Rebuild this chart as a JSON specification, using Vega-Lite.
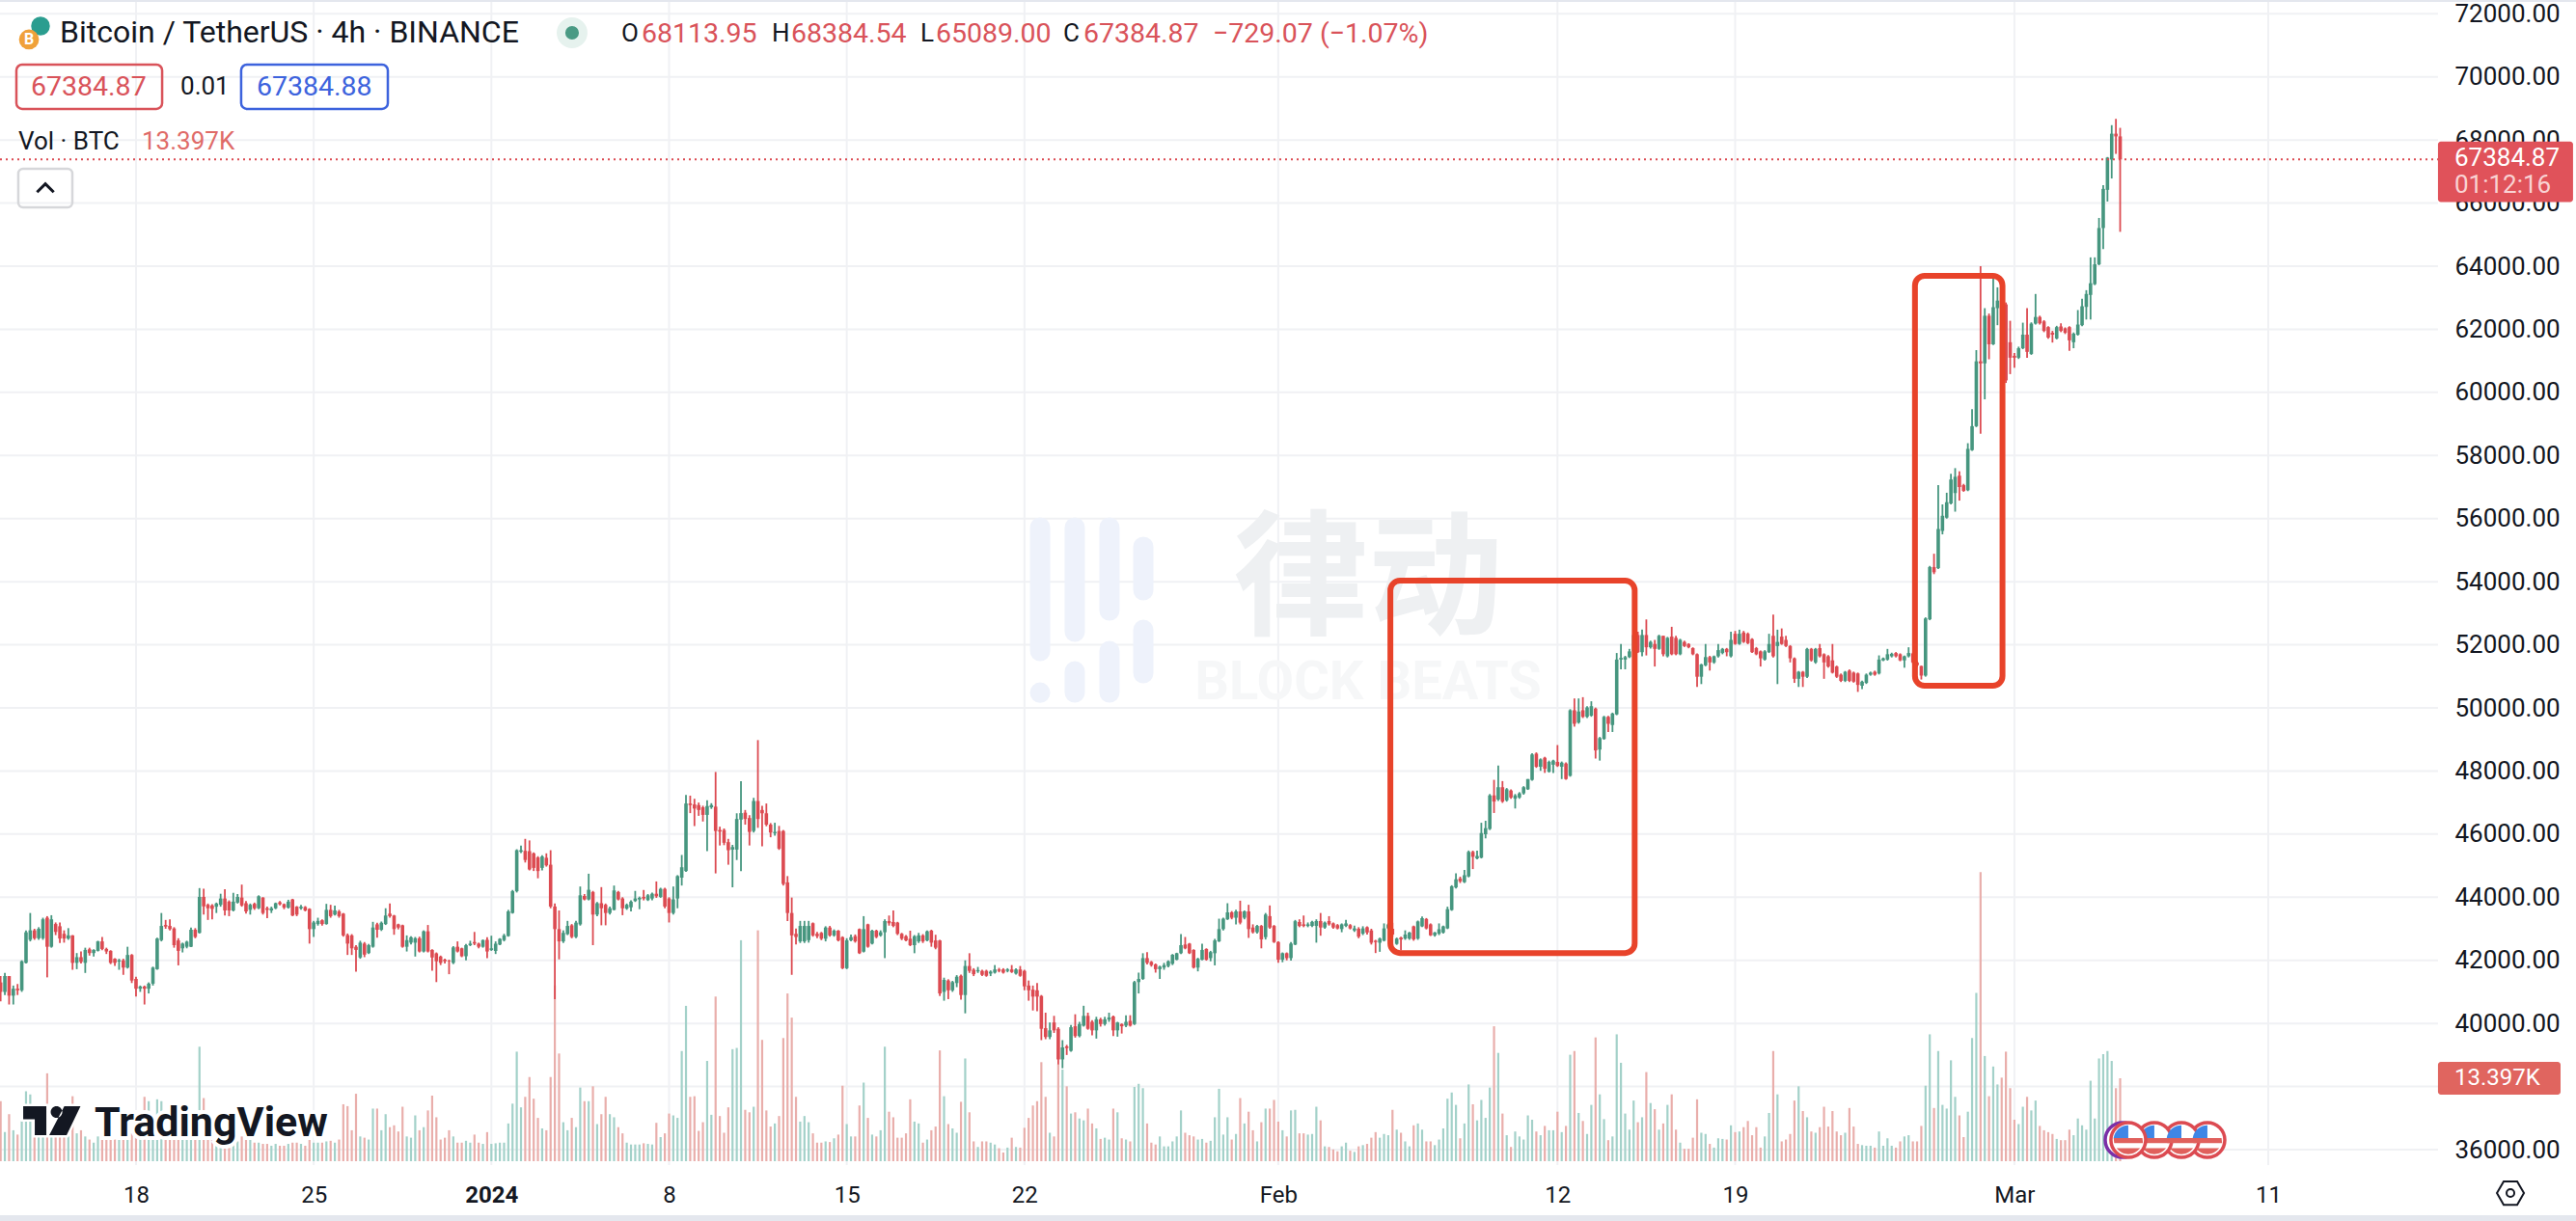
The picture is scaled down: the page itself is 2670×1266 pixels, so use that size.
{"$schema":"https://vega.github.io/schema/vega-lite/v6.json","width":2670,"height":1266,"padding":0,"autosize":{"type":"none","contains":"padding"},"background":"white","config":{"view":{"stroke":null}},
"datasets":{"candles":[
{"t":"2023-12-12T16:00","o":41300,"h":41500,"l":40700,"c":41000,"v":9700},{"t":"2023-12-12T20:00","o":41000,"h":41600,"l":40900,"c":41500,"v":4700},
{"t":"2023-12-13T00:00","o":41500,"h":41500,"l":40600,"c":40880,"v":7600},{"t":"2023-12-13T04:00","o":40880,"h":41200,"l":40600,"c":41100,"v":5000},{"t":"2023-12-13T08:00","o":41100,"h":41250,"l":40900,"c":41050,"v":4300},{"t":"2023-12-13T12:00","o":41050,"h":42000,"l":41000,"c":41970,"v":6500},{"t":"2023-12-13T16:00","o":41920,"h":42950,"l":41900,"c":42890,"v":11300},{"t":"2023-12-13T20:00","o":42650,"h":43500,"l":42600,"c":42950,"v":10800},
{"t":"2023-12-14T00:00","o":42950,"h":43000,"l":42650,"c":42700,"v":6500},{"t":"2023-12-14T04:00","o":42700,"h":43050,"l":42650,"c":43000,"v":5000},{"t":"2023-12-14T08:00","o":42700,"h":43350,"l":42650,"c":43300,"v":6000},{"t":"2023-12-14T12:00","o":43350,"h":43400,"l":41460,"c":42430,"v":14200},{"t":"2023-12-14T16:00","o":42430,"h":43430,"l":42400,"c":43300,"v":5000},{"t":"2023-12-14T20:00","o":43150,"h":43200,"l":42800,"c":42900,"v":4000},
{"t":"2023-12-15T00:00","o":43080,"h":43200,"l":42550,"c":42690,"v":4000},{"t":"2023-12-15T04:00","o":42840,"h":42950,"l":42560,"c":42690,"v":4500},{"t":"2023-12-15T08:00","o":42690,"h":43020,"l":42650,"c":42790,"v":4000},{"t":"2023-12-15T12:00","o":42790,"h":42800,"l":41700,"c":41920,"v":10500},{"t":"2023-12-15T16:00","o":41920,"h":42230,"l":41720,"c":42100,"v":4500},{"t":"2023-12-15T20:00","o":42100,"h":42280,"l":41900,"c":41950,"v":5000},
{"t":"2023-12-16T00:00","o":41920,"h":42400,"l":41600,"c":42330,"v":4000},{"t":"2023-12-16T04:00","o":42350,"h":42400,"l":42150,"c":42230,"v":3500},{"t":"2023-12-16T08:00","o":42230,"h":42350,"l":42120,"c":42330,"v":3000},{"t":"2023-12-16T12:00","o":42300,"h":42620,"l":42280,"c":42600,"v":4000},{"t":"2023-12-16T16:00","o":42600,"h":42740,"l":42320,"c":42360,"v":4500},{"t":"2023-12-16T20:00","o":42360,"h":42400,"l":42200,"c":42280,"v":3500},
{"t":"2023-12-17T00:00","o":42300,"h":42320,"l":41880,"c":41920,"v":3500},{"t":"2023-12-17T04:00","o":42050,"h":42070,"l":41820,"c":41920,"v":3500},{"t":"2023-12-17T08:00","o":41960,"h":42050,"l":41700,"c":42000,"v":3500},{"t":"2023-12-17T12:00","o":42000,"h":42050,"l":41540,"c":41770,"v":4000},{"t":"2023-12-17T16:00","o":41770,"h":42430,"l":41740,"c":42170,"v":4000},{"t":"2023-12-17T20:00","o":42170,"h":42200,"l":41280,"c":41360,"v":4500},
{"t":"2023-12-18T00:00","o":41410,"h":41480,"l":40850,"c":41100,"v":5000},{"t":"2023-12-18T04:00","o":41100,"h":41200,"l":41000,"c":41170,"v":4500},{"t":"2023-12-18T08:00","o":41170,"h":41200,"l":40600,"c":41100,"v":10400},{"t":"2023-12-18T12:00","o":41100,"h":41300,"l":40950,"c":41260,"v":9700},{"t":"2023-12-18T16:00","o":41260,"h":41800,"l":41200,"c":41770,"v":5000},{"t":"2023-12-18T20:00","o":41720,"h":42720,"l":41700,"c":42690,"v":10000},
{"t":"2023-12-19T00:00","o":42640,"h":43500,"l":42600,"c":43090,"v":9700},{"t":"2023-12-19T04:00","o":43120,"h":43280,"l":43000,"c":43070,"v":4500},{"t":"2023-12-19T08:00","o":43090,"h":43300,"l":42950,"c":42990,"v":4000},{"t":"2023-12-19T12:00","o":43010,"h":43050,"l":42400,"c":42480,"v":5000},{"t":"2023-12-19T16:00","o":42630,"h":42700,"l":41840,"c":42300,"v":4500},{"t":"2023-12-19T20:00","o":42380,"h":42560,"l":42250,"c":42530,"v":4000},
{"t":"2023-12-20T00:00","o":42430,"h":42620,"l":42380,"c":42590,"v":4000},{"t":"2023-12-20T04:00","o":42430,"h":43040,"l":42420,"c":42970,"v":5000},{"t":"2023-12-20T08:00","o":42970,"h":43020,"l":42700,"c":42740,"v":4500},{"t":"2023-12-20T12:00","o":42870,"h":44290,"l":42850,"c":44010,"v":18500},{"t":"2023-12-20T16:00","o":44010,"h":44270,"l":43450,"c":43710,"v":10200},{"t":"2023-12-20T20:00","o":43760,"h":43800,"l":43280,"c":43650,"v":4000},
{"t":"2023-12-21T00:00","o":43740,"h":43780,"l":43300,"c":43630,"v":4200},{"t":"2023-12-21T04:00","o":43700,"h":43830,"l":43500,"c":43800,"v":3800},{"t":"2023-12-21T08:00","o":43760,"h":44110,"l":43700,"c":43960,"v":3800},{"t":"2023-12-21T12:00","o":43960,"h":44250,"l":43420,"c":43580,"v":5000},{"t":"2023-12-21T16:00","o":43860,"h":43900,"l":43400,"c":43580,"v":3500},{"t":"2023-12-21T20:00","o":43580,"h":44140,"l":43550,"c":43860,"v":3500},
{"t":"2023-12-22T00:00","o":43830,"h":44100,"l":43800,"c":44010,"v":3200},{"t":"2023-12-22T04:00","o":43990,"h":44400,"l":43700,"c":43740,"v":4000},{"t":"2023-12-22T08:00","o":43810,"h":43880,"l":43480,"c":43550,"v":3800},{"t":"2023-12-22T12:00","o":43600,"h":43800,"l":43450,"c":43760,"v":3500},{"t":"2023-12-22T16:00","o":43790,"h":43830,"l":43600,"c":43650,"v":3000},{"t":"2023-12-22T20:00","o":43650,"h":44060,"l":43620,"c":44030,"v":3000},
{"t":"2023-12-23T00:00","o":43990,"h":44000,"l":43450,"c":43500,"v":2800},{"t":"2023-12-23T04:00","o":43650,"h":43700,"l":43340,"c":43600,"v":2800},{"t":"2023-12-23T08:00","o":43580,"h":43700,"l":43500,"c":43650,"v":2500},{"t":"2023-12-23T12:00","o":43650,"h":43830,"l":43620,"c":43810,"v":2800},{"t":"2023-12-23T16:00","o":43840,"h":43880,"l":43740,"c":43780,"v":2500},{"t":"2023-12-23T20:00","o":43780,"h":43800,"l":43620,"c":43670,"v":2500},
{"t":"2023-12-24T00:00","o":43670,"h":43920,"l":43640,"c":43860,"v":2800},{"t":"2023-12-24T04:00","o":43930,"h":43950,"l":43400,"c":43420,"v":3000},{"t":"2023-12-24T08:00","o":43700,"h":43720,"l":43400,"c":43450,"v":3000},{"t":"2023-12-24T12:00","o":43650,"h":43760,"l":43600,"c":43700,"v":2800},{"t":"2023-12-24T16:00","o":43690,"h":43720,"l":43550,"c":43580,"v":2500},{"t":"2023-12-24T20:00","o":43630,"h":43650,"l":42530,"c":42990,"v":3500},
{"t":"2023-12-25T00:00","o":42990,"h":43250,"l":42740,"c":43200,"v":3000},{"t":"2023-12-25T04:00","o":43150,"h":43350,"l":43100,"c":43250,"v":3000},{"t":"2023-12-25T08:00","o":43270,"h":43300,"l":43100,"c":43150,"v":3000},{"t":"2023-12-25T12:00","o":43150,"h":43790,"l":43130,"c":43600,"v":3200},{"t":"2023-12-25T16:00","o":43600,"h":43760,"l":43350,"c":43400,"v":3300},{"t":"2023-12-25T20:00","o":43450,"h":43730,"l":43420,"c":43580,"v":3000},
{"t":"2023-12-26T00:00","o":43550,"h":43600,"l":43350,"c":43400,"v":3500},{"t":"2023-12-26T04:00","o":43480,"h":43500,"l":42750,"c":42790,"v":9200},{"t":"2023-12-26T08:00","o":42800,"h":42850,"l":42170,"c":42530,"v":8900},{"t":"2023-12-26T12:00","o":42790,"h":42830,"l":42170,"c":42380,"v":5000},{"t":"2023-12-26T16:00","o":42430,"h":42480,"l":41640,"c":42330,"v":10900},{"t":"2023-12-26T20:00","o":42090,"h":42620,"l":42050,"c":42560,"v":4000},
{"t":"2023-12-27T00:00","o":42530,"h":42580,"l":42100,"c":42180,"v":3800},{"t":"2023-12-27T04:00","o":42230,"h":42520,"l":42200,"c":42480,"v":3500},{"t":"2023-12-27T08:00","o":42430,"h":43220,"l":42400,"c":43040,"v":8500},{"t":"2023-12-27T12:00","o":43140,"h":43190,"l":42720,"c":42970,"v":8500},{"t":"2023-12-27T16:00","o":42970,"h":43230,"l":42930,"c":43190,"v":5000},{"t":"2023-12-27T20:00","o":43150,"h":43650,"l":43120,"c":43420,"v":7600},
{"t":"2023-12-28T00:00","o":43480,"h":43800,"l":43350,"c":43400,"v":5500},{"t":"2023-12-28T04:00","o":43420,"h":43440,"l":42810,"c":42990,"v":5800},{"t":"2023-12-28T08:00","o":43140,"h":43160,"l":42980,"c":43040,"v":4800},{"t":"2023-12-28T12:00","o":43110,"h":43130,"l":42400,"c":42430,"v":8800},{"t":"2023-12-28T16:00","o":42430,"h":42790,"l":42280,"c":42640,"v":4000},{"t":"2023-12-28T20:00","o":42560,"h":42760,"l":42500,"c":42730,"v":3800},
{"t":"2023-12-29T00:00","o":42560,"h":42740,"l":42120,"c":42700,"v":7400},{"t":"2023-12-29T04:00","o":42700,"h":42750,"l":42250,"c":42280,"v":5000},{"t":"2023-12-29T08:00","o":42280,"h":42950,"l":42250,"c":42920,"v":5500},{"t":"2023-12-29T12:00","o":42920,"h":43120,"l":42250,"c":42280,"v":8200},{"t":"2023-12-29T16:00","o":42330,"h":42350,"l":41670,"c":42090,"v":10600},{"t":"2023-12-29T20:00","o":42220,"h":42250,"l":41310,"c":41970,"v":7100},
{"t":"2023-12-30T00:00","o":42120,"h":42150,"l":41850,"c":41920,"v":3500},{"t":"2023-12-30T04:00","o":42020,"h":42050,"l":41900,"c":41970,"v":3800},{"t":"2023-12-30T08:00","o":41990,"h":42020,"l":41560,"c":41970,"v":5000},{"t":"2023-12-30T12:00","o":41920,"h":42450,"l":41880,"c":42410,"v":4000},{"t":"2023-12-30T16:00","o":42430,"h":42600,"l":42250,"c":42280,"v":3000},{"t":"2023-12-30T20:00","o":42380,"h":42400,"l":42100,"c":42130,"v":3000},
{"t":"2023-12-31T00:00","o":42130,"h":42520,"l":42000,"c":42480,"v":3300},{"t":"2023-12-31T04:00","o":42480,"h":42620,"l":42450,"c":42530,"v":3000},{"t":"2023-12-31T08:00","o":42580,"h":42900,"l":42480,"c":42530,"v":4300},{"t":"2023-12-31T12:00","o":42530,"h":42560,"l":42380,"c":42430,"v":3000},{"t":"2023-12-31T16:00","o":42430,"h":42660,"l":42400,"c":42640,"v":2800},{"t":"2023-12-31T20:00","o":42650,"h":42730,"l":42070,"c":42280,"v":4700},
{"t":"2024-01-01T00:00","o":42330,"h":42780,"l":42300,"c":42380,"v":2800},{"t":"2024-01-01T04:00","o":42300,"h":42600,"l":42200,"c":42530,"v":2900},{"t":"2024-01-01T08:00","o":42500,"h":42700,"l":42480,"c":42680,"v":3000},{"t":"2024-01-01T12:00","o":42640,"h":42840,"l":42600,"c":42790,"v":3000},{"t":"2024-01-01T16:00","o":42770,"h":43600,"l":42750,"c":43550,"v":6100},{"t":"2024-01-01T20:00","o":43500,"h":44230,"l":43480,"c":44190,"v":9300},
{"t":"2024-01-02T00:00","o":44190,"h":45520,"l":44150,"c":45490,"v":17700},{"t":"2024-01-02T04:00","o":45440,"h":45640,"l":45400,"c":45490,"v":8700},{"t":"2024-01-02T08:00","o":45470,"h":45850,"l":45100,"c":45180,"v":10400},{"t":"2024-01-02T12:00","o":45460,"h":45800,"l":44850,"c":44880,"v":13600},{"t":"2024-01-02T16:00","o":45390,"h":45420,"l":44830,"c":44930,"v":10100},{"t":"2024-01-02T20:00","o":45260,"h":45300,"l":44600,"c":44830,"v":7000},
{"t":"2024-01-03T00:00","o":44930,"h":45330,"l":44850,"c":45290,"v":5300},{"t":"2024-01-03T04:00","o":45250,"h":45390,"l":44970,"c":45010,"v":5000},{"t":"2024-01-03T08:00","o":45030,"h":45490,"l":43650,"c":43705,"v":13600},{"t":"2024-01-03T12:00","o":43705,"h":43800,"l":40770,"c":42990,"v":28400},{"t":"2024-01-03T16:00","o":42990,"h":43580,"l":42030,"c":42600,"v":17400},{"t":"2024-01-03T20:00","o":42600,"h":42950,"l":42550,"c":42870,"v":6300},
{"t":"2024-01-04T00:00","o":42830,"h":43250,"l":42800,"c":43090,"v":5000},{"t":"2024-01-04T04:00","o":43110,"h":43150,"l":42700,"c":42740,"v":7000},{"t":"2024-01-04T08:00","o":42740,"h":43250,"l":42700,"c":43195,"v":5500},{"t":"2024-01-04T12:00","o":43140,"h":44340,"l":43100,"c":44060,"v":11900},{"t":"2024-01-04T16:00","o":44040,"h":44100,"l":43900,"c":43930,"v":9700},{"t":"2024-01-04T20:00","o":43930,"h":44745,"l":43900,"c":44235,"v":9700},
{"t":"2024-01-05T00:00","o":44165,"h":44200,"l":42480,"c":43450,"v":12100},{"t":"2024-01-05T04:00","o":43450,"h":43850,"l":43400,"c":43810,"v":6000},{"t":"2024-01-05T08:00","o":43810,"h":44320,"l":43110,"c":43650,"v":7600},{"t":"2024-01-05T12:00","o":43760,"h":43800,"l":43110,"c":43500,"v":10400},{"t":"2024-01-05T16:00","o":43500,"h":43700,"l":43450,"c":43650,"v":7600},{"t":"2024-01-05T20:00","o":43600,"h":44370,"l":43580,"c":44215,"v":7100},
{"t":"2024-01-06T00:00","o":44165,"h":44200,"l":43900,"c":43930,"v":5500},{"t":"2024-01-06T04:00","o":43960,"h":44000,"l":43430,"c":43650,"v":4500},{"t":"2024-01-06T08:00","o":43640,"h":43800,"l":43600,"c":43760,"v":3000},{"t":"2024-01-06T12:00","o":43680,"h":43900,"l":43550,"c":43860,"v":2700},{"t":"2024-01-06T16:00","o":43880,"h":44200,"l":43850,"c":43960,"v":2700},{"t":"2024-01-06T20:00","o":43930,"h":44020,"l":43620,"c":43980,"v":2700},
{"t":"2024-01-07T00:00","o":44010,"h":44230,"l":43900,"c":43960,"v":2900},{"t":"2024-01-07T04:00","o":43910,"h":44100,"l":43880,"c":44060,"v":2800},{"t":"2024-01-07T08:00","o":43960,"h":44150,"l":43900,"c":44110,"v":2700},{"t":"2024-01-07T12:00","o":44110,"h":44500,"l":43980,"c":44030,"v":6200},{"t":"2024-01-07T16:00","o":44010,"h":44300,"l":43980,"c":44265,"v":3900},{"t":"2024-01-07T20:00","o":44265,"h":44300,"l":43650,"c":43705,"v":4500},
{"t":"2024-01-08T00:00","o":43960,"h":44000,"l":43200,"c":43500,"v":7700},{"t":"2024-01-08T04:00","o":43500,"h":44340,"l":43450,"c":43930,"v":7400},{"t":"2024-01-08T08:00","o":43960,"h":44700,"l":43650,"c":44670,"v":7000},{"t":"2024-01-08T12:00","o":44620,"h":45340,"l":44370,"c":44950,"v":17800},{"t":"2024-01-08T16:00","o":44830,"h":47245,"l":44800,"c":46970,"v":25100},{"t":"2024-01-08T20:00","o":46970,"h":47220,"l":46665,"c":46920,"v":10400},
{"t":"2024-01-09T00:00","o":46940,"h":47120,"l":46255,"c":46810,"v":10500},{"t":"2024-01-09T04:00","o":46920,"h":47000,"l":46580,"c":46765,"v":4900},{"t":"2024-01-09T08:00","o":46850,"h":46900,"l":46400,"c":46610,"v":6300},{"t":"2024-01-09T12:00","o":46610,"h":47070,"l":45460,"c":46890,"v":16200},{"t":"2024-01-09T16:00","o":46850,"h":46980,"l":46800,"c":46920,"v":7500},{"t":"2024-01-09T20:00","o":46870,"h":47970,"l":44755,"c":46100,"v":26600},
{"t":"2024-01-10T00:00","o":46130,"h":46235,"l":45640,"c":46080,"v":7300},{"t":"2024-01-10T04:00","o":46130,"h":46180,"l":45650,"c":45725,"v":4600},{"t":"2024-01-10T08:00","o":45745,"h":45850,"l":45030,"c":45490,"v":8700},{"t":"2024-01-10T12:00","o":45510,"h":45660,"l":44315,"c":45590,"v":18100},{"t":"2024-01-10T16:00","o":45510,"h":46660,"l":45180,"c":46480,"v":18300},{"t":"2024-01-10T20:00","o":46460,"h":47680,"l":44830,"c":46665,"v":35700},
{"t":"2024-01-11T00:00","o":46680,"h":46765,"l":46300,"c":46480,"v":8300},{"t":"2024-01-11T04:00","o":46510,"h":46600,"l":45640,"c":46070,"v":7900},{"t":"2024-01-11T08:00","o":46100,"h":47150,"l":46050,"c":47050,"v":8800},{"t":"2024-01-11T12:00","o":47050,"h":48980,"l":46200,"c":46480,"v":37300},{"t":"2024-01-11T16:00","o":46765,"h":46900,"l":45610,"c":46660,"v":19600},{"t":"2024-01-11T20:00","o":46660,"h":46970,"l":46250,"c":46300,"v":8200},
{"t":"2024-01-12T00:00","o":46300,"h":46350,"l":45900,"c":46050,"v":5600},{"t":"2024-01-12T04:00","o":46030,"h":46360,"l":45950,"c":46070,"v":6100},{"t":"2024-01-12T08:00","o":46100,"h":46260,"l":45500,"c":45540,"v":7300},{"t":"2024-01-12T12:00","o":46100,"h":46130,"l":44370,"c":44420,"v":19900},{"t":"2024-01-12T16:00","o":44470,"h":44670,"l":43245,"c":43500,"v":27100},{"t":"2024-01-12T20:00","o":43500,"h":43990,"l":41540,"c":42790,"v":23200},
{"t":"2024-01-13T00:00","o":42840,"h":43010,"l":42500,"c":42740,"v":10400},{"t":"2024-01-13T04:00","o":42600,"h":43250,"l":42550,"c":43090,"v":6400},{"t":"2024-01-13T08:00","o":42600,"h":43250,"l":42550,"c":43090,"v":7300},{"t":"2024-01-13T12:00","o":42640,"h":43250,"l":42560,"c":43090,"v":6300},{"t":"2024-01-13T16:00","o":43175,"h":43200,"l":42750,"c":42790,"v":4500},{"t":"2024-01-13T20:00","o":42840,"h":42900,"l":42700,"c":42765,"v":3000},
{"t":"2024-01-14T00:00","o":42870,"h":42900,"l":42640,"c":42685,"v":3000},{"t":"2024-01-14T04:00","o":42685,"h":43080,"l":42600,"c":43040,"v":3200},{"t":"2024-01-14T08:00","o":43040,"h":43090,"l":42750,"c":42790,"v":3100},{"t":"2024-01-14T12:00","o":42790,"h":42980,"l":42750,"c":42940,"v":3700},{"t":"2024-01-14T16:00","o":42940,"h":42960,"l":42600,"c":42630,"v":4300},{"t":"2024-01-14T20:00","o":42735,"h":42760,"l":41720,"c":41750,"v":12200},
{"t":"2024-01-15T00:00","o":41750,"h":42700,"l":41720,"c":42635,"v":6000},{"t":"2024-01-15T04:00","o":42635,"h":42820,"l":42600,"c":42735,"v":4000},{"t":"2024-01-15T08:00","o":42765,"h":42820,"l":42560,"c":42600,"v":4000},{"t":"2024-01-15T12:00","o":42990,"h":43010,"l":42200,"c":42225,"v":9000},{"t":"2024-01-15T16:00","o":42275,"h":43400,"l":42250,"c":42990,"v":12700},{"t":"2024-01-15T20:00","o":43140,"h":43160,"l":42400,"c":42430,"v":7000},
{"t":"2024-01-16T00:00","o":42530,"h":42970,"l":42500,"c":42940,"v":4300},{"t":"2024-01-16T04:00","o":42940,"h":42970,"l":42700,"c":42740,"v":4000},{"t":"2024-01-16T08:00","o":42790,"h":42950,"l":42750,"c":42890,"v":5000},{"t":"2024-01-16T12:00","o":42890,"h":43300,"l":42070,"c":43245,"v":18500},{"t":"2024-01-16T16:00","o":43245,"h":43420,"l":43100,"c":43175,"v":8000},{"t":"2024-01-16T20:00","o":43215,"h":43580,"l":43050,"c":43090,"v":7100},
{"t":"2024-01-17T00:00","o":43195,"h":43220,"l":42800,"c":42840,"v":3800},{"t":"2024-01-17T04:00","o":42840,"h":42870,"l":42640,"c":42685,"v":3800},{"t":"2024-01-17T08:00","o":42765,"h":42800,"l":42600,"c":42630,"v":4500},{"t":"2024-01-17T12:00","o":42685,"h":42940,"l":42450,"c":42480,"v":10000},{"t":"2024-01-17T16:00","o":42480,"h":42800,"l":42225,"c":42765,"v":6400},{"t":"2024-01-17T20:00","o":42600,"h":42870,"l":42550,"c":42790,"v":6100},
{"t":"2024-01-18T00:00","o":42790,"h":42830,"l":42550,"c":42600,"v":3000},{"t":"2024-01-18T04:00","o":42630,"h":42950,"l":42600,"c":42920,"v":3500},{"t":"2024-01-18T08:00","o":42940,"h":42970,"l":42430,"c":42560,"v":5000},{"t":"2024-01-18T12:00","o":42630,"h":42810,"l":42350,"c":42400,"v":5600},{"t":"2024-01-18T16:00","o":42630,"h":42650,"l":40870,"c":40950,"v":17900},{"t":"2024-01-18T20:00","o":41000,"h":41450,"l":40720,"c":41380,"v":10500},
{"t":"2024-01-19T00:00","o":41360,"h":41400,"l":40770,"c":41050,"v":6000},{"t":"2024-01-19T04:00","o":41050,"h":41350,"l":41000,"c":41310,"v":5300},{"t":"2024-01-19T08:00","o":41280,"h":41530,"l":41150,"c":41480,"v":4600},{"t":"2024-01-19T12:00","o":41510,"h":41550,"l":40750,"c":40900,"v":9600},{"t":"2024-01-19T16:00","o":40900,"h":42000,"l":40320,"c":41820,"v":16600},{"t":"2024-01-19T20:00","o":41820,"h":42225,"l":41600,"c":41665,"v":7900},
{"t":"2024-01-20T00:00","o":41700,"h":41750,"l":41500,"c":41560,"v":3200},{"t":"2024-01-20T04:00","o":41650,"h":41790,"l":41600,"c":41690,"v":2300},{"t":"2024-01-20T08:00","o":41665,"h":41700,"l":41500,"c":41540,"v":3200},{"t":"2024-01-20T12:00","o":41665,"h":41700,"l":41480,"c":41510,"v":3200},{"t":"2024-01-20T16:00","o":41580,"h":41680,"l":41500,"c":41640,"v":3000},{"t":"2024-01-20T20:00","o":41610,"h":41850,"l":41580,"c":41710,"v":2700},
{"t":"2024-01-21T00:00","o":41710,"h":41760,"l":41620,"c":41665,"v":2100},{"t":"2024-01-21T04:00","o":41710,"h":41750,"l":41580,"c":41610,"v":1400},{"t":"2024-01-21T08:00","o":41665,"h":41750,"l":41620,"c":41710,"v":2200},{"t":"2024-01-21T12:00","o":41710,"h":41850,"l":41600,"c":41630,"v":3800},{"t":"2024-01-21T16:00","o":41580,"h":41750,"l":41550,"c":41710,"v":2300},{"t":"2024-01-21T20:00","o":41710,"h":41820,"l":41480,"c":41510,"v":2200},
{"t":"2024-01-22T00:00","o":41665,"h":41700,"l":41050,"c":41175,"v":5400},{"t":"2024-01-22T04:00","o":41200,"h":41360,"l":40720,"c":41050,"v":7000},{"t":"2024-01-22T08:00","o":41070,"h":41200,"l":40410,"c":40850,"v":9000},{"t":"2024-01-22T12:00","o":41050,"h":41280,"l":40390,"c":40850,"v":9700},{"t":"2024-01-22T16:00","o":40870,"h":40900,"l":39470,"c":39830,"v":16000},{"t":"2024-01-22T20:00","o":39850,"h":40340,"l":39500,"c":39570,"v":10400},
{"t":"2024-01-23T00:00","o":39570,"h":40030,"l":39500,"c":39780,"v":4600},{"t":"2024-01-23T04:00","o":40030,"h":40240,"l":39700,"c":39780,"v":4000},{"t":"2024-01-23T08:00","o":39830,"h":39880,"l":38700,"c":38860,"v":15700},{"t":"2024-01-23T12:00","o":38860,"h":39470,"l":38580,"c":39240,"v":14800},{"t":"2024-01-23T16:00","o":39270,"h":39320,"l":39000,"c":39220,"v":12100},{"t":"2024-01-23T20:00","o":39130,"h":39950,"l":39100,"c":39880,"v":7700},
{"t":"2024-01-24T00:00","o":39910,"h":40290,"l":39550,"c":39600,"v":7900},{"t":"2024-01-24T04:00","o":39600,"h":40050,"l":39560,"c":39980,"v":6900},{"t":"2024-01-24T08:00","o":39930,"h":40560,"l":39900,"c":40240,"v":6600},{"t":"2024-01-24T12:00","o":40240,"h":40340,"l":39800,"c":39830,"v":8500},{"t":"2024-01-24T16:00","o":40050,"h":40100,"l":39620,"c":39780,"v":6100},{"t":"2024-01-24T20:00","o":39780,"h":40210,"l":39520,"c":40130,"v":5300},
{"t":"2024-01-25T00:00","o":40130,"h":40180,"l":39900,"c":39980,"v":3600},{"t":"2024-01-25T04:00","o":39980,"h":40210,"l":39930,"c":40130,"v":3800},{"t":"2024-01-25T08:00","o":40120,"h":40340,"l":40050,"c":40190,"v":3500},{"t":"2024-01-25T12:00","o":40220,"h":40250,"l":39600,"c":39780,"v":8500},{"t":"2024-01-25T16:00","o":39780,"h":40050,"l":39580,"c":40030,"v":7900},{"t":"2024-01-25T20:00","o":39980,"h":40000,"l":39680,"c":39910,"v":3700},
{"t":"2024-01-26T00:00","o":39930,"h":40260,"l":39880,"c":40050,"v":3500},{"t":"2024-01-26T04:00","o":40080,"h":40260,"l":39900,"c":39930,"v":3200},{"t":"2024-01-26T08:00","o":39980,"h":41350,"l":39950,"c":41310,"v":12000},{"t":"2024-01-26T12:00","o":41310,"h":41610,"l":40950,"c":41410,"v":12500},{"t":"2024-01-26T16:00","o":41410,"h":42225,"l":41380,"c":42070,"v":11800},{"t":"2024-01-26T20:00","o":42070,"h":42260,"l":41870,"c":41920,"v":6100},
{"t":"2024-01-27T00:00","o":41950,"h":41980,"l":41800,"c":41850,"v":3000},{"t":"2024-01-27T04:00","o":41870,"h":41900,"l":41610,"c":41720,"v":2700},{"t":"2024-01-27T08:00","o":41720,"h":41830,"l":41410,"c":41800,"v":4000},{"t":"2024-01-27T12:00","o":41770,"h":41920,"l":41700,"c":41850,"v":2400},{"t":"2024-01-27T16:00","o":41820,"h":42000,"l":41780,"c":41970,"v":2400},{"t":"2024-01-27T20:00","o":41890,"h":42200,"l":41850,"c":42175,"v":3200},
{"t":"2024-01-28T00:00","o":42020,"h":42240,"l":42000,"c":42225,"v":4000},{"t":"2024-01-28T04:00","o":42225,"h":42830,"l":42200,"c":42480,"v":8200},{"t":"2024-01-28T08:00","o":42500,"h":42740,"l":42350,"c":42380,"v":4600},{"t":"2024-01-28T12:00","o":42530,"h":42550,"l":42200,"c":42225,"v":4200},{"t":"2024-01-28T16:00","o":42330,"h":42350,"l":41740,"c":41770,"v":4000},{"t":"2024-01-28T20:00","o":41770,"h":42080,"l":41650,"c":42050,"v":3500},
{"t":"2024-01-29T00:00","o":42020,"h":42530,"l":42000,"c":42330,"v":3600},{"t":"2024-01-29T04:00","o":42360,"h":42380,"l":41990,"c":42020,"v":3000},{"t":"2024-01-29T08:00","o":42070,"h":42300,"l":41970,"c":42260,"v":3300},{"t":"2024-01-29T12:00","o":42225,"h":42680,"l":41840,"c":42630,"v":7100},{"t":"2024-01-29T16:00","o":42600,"h":43320,"l":42580,"c":42990,"v":11700},{"t":"2024-01-29T20:00","o":42990,"h":43350,"l":42950,"c":43320,"v":4300},
{"t":"2024-01-30T00:00","o":43300,"h":43810,"l":43280,"c":43520,"v":7100},{"t":"2024-01-30T04:00","o":43520,"h":43560,"l":43300,"c":43350,"v":3500},{"t":"2024-01-30T08:00","o":43350,"h":43600,"l":43140,"c":43550,"v":4400},{"t":"2024-01-30T12:00","o":43550,"h":43890,"l":43140,"c":43195,"v":10200},{"t":"2024-01-30T16:00","o":43350,"h":43580,"l":43300,"c":43550,"v":6100},{"t":"2024-01-30T20:00","o":43550,"h":43760,"l":42710,"c":42990,"v":8000},
{"t":"2024-01-31T00:00","o":43040,"h":43140,"l":42850,"c":42890,"v":5000},{"t":"2024-01-31T04:00","o":42890,"h":43120,"l":42850,"c":43090,"v":3200},{"t":"2024-01-31T08:00","o":43090,"h":43120,"l":42380,"c":42665,"v":6300},{"t":"2024-01-31T12:00","o":42735,"h":43500,"l":42660,"c":43450,"v":8500},{"t":"2024-01-31T16:00","o":43400,"h":43740,"l":43000,"c":43040,"v":8500},{"t":"2024-01-31T20:00","o":43090,"h":43120,"l":42550,"c":42580,"v":9900},
{"t":"2024-02-01T00:00","o":42580,"h":42600,"l":41920,"c":42020,"v":6400},{"t":"2024-02-01T04:00","o":42020,"h":42250,"l":41940,"c":42225,"v":5000},{"t":"2024-02-01T08:00","o":42225,"h":42250,"l":42000,"c":42070,"v":4000},{"t":"2024-02-01T12:00","o":42070,"h":42580,"l":41990,"c":42530,"v":8200},{"t":"2024-02-01T16:00","o":42500,"h":43280,"l":42480,"c":43240,"v":8300},{"t":"2024-02-01T20:00","o":43215,"h":43300,"l":43050,"c":43090,"v":4500},
{"t":"2024-02-02T00:00","o":43140,"h":43420,"l":43050,"c":43090,"v":4500},{"t":"2024-02-02T04:00","o":43090,"h":43200,"l":43050,"c":43140,"v":4300},{"t":"2024-02-02T08:00","o":43090,"h":43250,"l":43050,"c":43220,"v":4400},{"t":"2024-02-02T12:00","o":43090,"h":43300,"l":42560,"c":43245,"v":8800},{"t":"2024-02-02T16:00","o":43245,"h":43500,"l":42780,"c":43040,"v":6600},{"t":"2024-02-02T20:00","o":43040,"h":43230,"l":43000,"c":43195,"v":2400},
{"t":"2024-02-03T00:00","o":43245,"h":43400,"l":43100,"c":43140,"v":2300},{"t":"2024-02-03T04:00","o":43170,"h":43200,"l":43000,"c":43040,"v":1900},{"t":"2024-02-03T08:00","o":43115,"h":43150,"l":42980,"c":43010,"v":1600},{"t":"2024-02-03T12:00","o":42990,"h":43170,"l":42890,"c":43140,"v":2400},{"t":"2024-02-03T16:00","o":43090,"h":43280,"l":43050,"c":43170,"v":3000},{"t":"2024-02-03T20:00","o":43115,"h":43150,"l":42980,"c":43010,"v":1700},
{"t":"2024-02-04T00:00","o":42947,"h":43100,"l":42900,"c":43012,"v":1500},{"t":"2024-02-04T04:00","o":43000,"h":43050,"l":42700,"c":42750,"v":2400},{"t":"2024-02-04T08:00","o":42845,"h":43080,"l":42800,"c":43012,"v":2600},{"t":"2024-02-04T12:00","o":43050,"h":43080,"l":42820,"c":42882,"v":2800},{"t":"2024-02-04T16:00","o":42947,"h":43000,"l":42500,"c":42558,"v":3800},{"t":"2024-02-04T20:00","o":42620,"h":42650,"l":42230,"c":42580,"v":4700},
{"t":"2024-02-05T00:00","o":42558,"h":42720,"l":42270,"c":42688,"v":3800},{"t":"2024-02-05T04:00","o":42623,"h":43170,"l":42600,"c":43012,"v":4400},{"t":"2024-02-05T08:00","o":43012,"h":43180,"l":42980,"c":43140,"v":4200},{"t":"2024-02-05T12:00","o":43000,"h":43190,"l":42750,"c":42817,"v":8300},{"t":"2024-02-05T16:00","o":42520,"h":42720,"l":42490,"c":42688,"v":5100},{"t":"2024-02-05T20:00","o":42720,"h":42750,"l":42310,"c":42660,"v":4600},
{"t":"2024-02-06T00:00","o":42688,"h":42950,"l":42650,"c":42817,"v":3200},{"t":"2024-02-06T04:00","o":42688,"h":42900,"l":42650,"c":42882,"v":2400},{"t":"2024-02-06T08:00","o":43077,"h":43100,"l":42620,"c":42663,"v":5800},{"t":"2024-02-06T12:00","o":42688,"h":43260,"l":42650,"c":43232,"v":6100},{"t":"2024-02-06T16:00","o":43077,"h":43390,"l":43050,"c":43336,"v":5100},{"t":"2024-02-06T20:00","o":43310,"h":43340,"l":42980,"c":43012,"v":3200},
{"t":"2024-02-07T00:00","o":43140,"h":43170,"l":42770,"c":42792,"v":3200},{"t":"2024-02-07T04:00","o":42792,"h":42900,"l":42750,"c":42882,"v":2600},{"t":"2024-02-07T08:00","o":42843,"h":43170,"l":42800,"c":42986,"v":3500},{"t":"2024-02-07T12:00","o":42882,"h":43100,"l":42850,"c":43077,"v":5300},{"t":"2024-02-07T16:00","o":43012,"h":43700,"l":42990,"c":43621,"v":10100},{"t":"2024-02-07T20:00","o":43595,"h":44380,"l":43570,"c":44347,"v":11100},
{"t":"2024-02-08T00:00","o":44309,"h":44760,"l":44280,"c":44568,"v":9100},{"t":"2024-02-08T04:00","o":44594,"h":44650,"l":44450,"c":44503,"v":3700},{"t":"2024-02-08T08:00","o":44477,"h":44865,"l":44450,"c":44698,"v":6100},{"t":"2024-02-08T12:00","o":44659,"h":45480,"l":44630,"c":45437,"v":12400},{"t":"2024-02-08T16:00","o":45437,"h":45476,"l":44892,"c":45281,"v":9200},{"t":"2024-02-08T20:00","o":45229,"h":45476,"l":45200,"c":45307,"v":6600},
{"t":"2024-02-09T00:00","o":45255,"h":46360,"l":45230,"c":46034,"v":9900},{"t":"2024-02-09T04:00","o":45995,"h":46423,"l":45865,"c":46189,"v":7000},{"t":"2024-02-09T08:00","o":46163,"h":47270,"l":46130,"c":47227,"v":11900},{"t":"2024-02-09T12:00","o":47227,"h":47720,"l":46670,"c":47032,"v":21800},{"t":"2024-02-09T16:00","o":47097,"h":48174,"l":47050,"c":47486,"v":17500},{"t":"2024-02-09T20:00","o":47486,"h":47681,"l":46990,"c":47032,"v":7700},
{"t":"2024-02-10T00:00","o":47071,"h":47460,"l":47030,"c":47421,"v":4200},{"t":"2024-02-10T04:00","o":47382,"h":47420,"l":47120,"c":47162,"v":2300},{"t":"2024-02-10T08:00","o":47123,"h":47270,"l":46812,"c":47227,"v":4800},{"t":"2024-02-10T12:00","o":47162,"h":47330,"l":47120,"c":47292,"v":4000},{"t":"2024-02-10T16:00","o":47292,"h":47520,"l":47250,"c":47486,"v":3500},{"t":"2024-02-10T20:00","o":47421,"h":47745,"l":47400,"c":47745,"v":7400},
{"t":"2024-02-11T00:00","o":47719,"h":48560,"l":47690,"c":48524,"v":6700},{"t":"2024-02-11T04:00","o":48550,"h":48590,"l":48100,"c":48135,"v":4800},{"t":"2024-02-11T08:00","o":48135,"h":48400,"l":48006,"c":48368,"v":4200},{"t":"2024-02-11T12:00","o":48420,"h":48450,"l":47940,"c":48070,"v":5700},{"t":"2024-02-11T16:00","o":47979,"h":48330,"l":47950,"c":48290,"v":5000},{"t":"2024-02-11T20:00","o":48200,"h":48360,"l":47940,"c":48330,"v":5000},
{"t":"2024-02-12T00:00","o":48290,"h":48823,"l":48130,"c":48160,"v":8000},{"t":"2024-02-12T04:00","o":48135,"h":48300,"l":47745,"c":48264,"v":4700},{"t":"2024-02-12T08:00","o":48238,"h":48270,"l":47720,"c":47745,"v":5700},{"t":"2024-02-12T12:00","o":47849,"h":49960,"l":47820,"c":49925,"v":17200},{"t":"2024-02-12T16:00","o":49925,"h":50300,"l":49406,"c":49497,"v":17800},{"t":"2024-02-12T20:00","o":49536,"h":50300,"l":49500,"c":49886,"v":7800},
{"t":"2024-02-13T00:00","o":49925,"h":50340,"l":49680,"c":49717,"v":6500},{"t":"2024-02-13T04:00","o":49717,"h":50050,"l":49680,"c":50015,"v":4400},{"t":"2024-02-13T08:00","o":49756,"h":50210,"l":49720,"c":50055,"v":9100},{"t":"2024-02-13T12:00","o":49976,"h":50010,"l":48395,"c":48654,"v":20000},{"t":"2024-02-13T16:00","o":48680,"h":49080,"l":48330,"c":49043,"v":10800},{"t":"2024-02-13T20:00","o":49017,"h":49750,"l":48990,"c":49717,"v":6800},
{"t":"2024-02-14T00:00","o":49717,"h":49750,"l":49237,"c":49497,"v":3400},{"t":"2024-02-14T04:00","o":49458,"h":49850,"l":49237,"c":49821,"v":4000},{"t":"2024-02-14T08:00","o":49795,"h":51740,"l":49770,"c":51533,"v":20500},{"t":"2024-02-14T12:00","o":51533,"h":52026,"l":51222,"c":51585,"v":15900},{"t":"2024-02-14T16:00","o":51533,"h":51650,"l":51222,"c":51611,"v":7700},{"t":"2024-02-14T20:00","o":51611,"h":51870,"l":51580,"c":51792,"v":5100},
{"t":"2024-02-15T00:00","o":51792,"h":52360,"l":51750,"c":52311,"v":9800},{"t":"2024-02-15T04:00","o":52311,"h":52415,"l":51740,"c":51766,"v":6300},{"t":"2024-02-15T08:00","o":51766,"h":52480,"l":51637,"c":52311,"v":7100},{"t":"2024-02-15T12:00","o":52311,"h":52804,"l":51663,"c":51922,"v":14400},{"t":"2024-02-15T16:00","o":51922,"h":52130,"l":51880,"c":52091,"v":9400},{"t":"2024-02-15T20:00","o":52026,"h":52156,"l":51312,"c":51870,"v":8400},
{"t":"2024-02-16T00:00","o":51870,"h":52320,"l":51840,"c":52285,"v":5100},{"t":"2024-02-16T04:00","o":52285,"h":52285,"l":51637,"c":51702,"v":6100},{"t":"2024-02-16T08:00","o":51637,"h":52250,"l":51600,"c":52220,"v":9100},{"t":"2024-02-16T12:00","o":52260,"h":52571,"l":51670,"c":51702,"v":10800},{"t":"2024-02-16T16:00","o":52220,"h":52285,"l":51670,"c":51702,"v":5100},{"t":"2024-02-16T20:00","o":51702,"h":52190,"l":51670,"c":52156,"v":3000},
{"t":"2024-02-17T00:00","o":52091,"h":52130,"l":51930,"c":51961,"v":2000},{"t":"2024-02-17T04:00","o":52026,"h":52050,"l":51890,"c":51922,"v":2000},{"t":"2024-02-17T08:00","o":51896,"h":51920,"l":51670,"c":51702,"v":3800},{"t":"2024-02-17T12:00","o":51702,"h":51730,"l":50664,"c":50988,"v":10000},{"t":"2024-02-17T16:00","o":50988,"h":51400,"l":50755,"c":51377,"v":4600},{"t":"2024-02-17T20:00","o":51351,"h":52026,"l":51320,"c":51611,"v":4400},
{"t":"2024-02-18T00:00","o":51611,"h":51650,"l":51183,"c":51442,"v":2800},{"t":"2024-02-18T04:00","o":51442,"h":51660,"l":51400,"c":51637,"v":2200},{"t":"2024-02-18T08:00","o":51637,"h":52026,"l":51600,"c":51831,"v":3700},{"t":"2024-02-18T12:00","o":51740,"h":51900,"l":51700,"c":51870,"v":3600},{"t":"2024-02-18T16:00","o":51870,"h":51900,"l":51637,"c":51766,"v":3500},{"t":"2024-02-18T20:00","o":51637,"h":52415,"l":51600,"c":52156,"v":5800},
{"t":"2024-02-19T00:00","o":52350,"h":52440,"l":52000,"c":52026,"v":4700},{"t":"2024-02-19T04:00","o":52026,"h":52480,"l":52000,"c":52350,"v":4800},{"t":"2024-02-19T08:00","o":52390,"h":52440,"l":52060,"c":52091,"v":5500},{"t":"2024-02-19T12:00","o":52350,"h":52390,"l":52020,"c":52052,"v":6500},{"t":"2024-02-19T16:00","o":52181,"h":52210,"l":51740,"c":51766,"v":4200},{"t":"2024-02-19T20:00","o":51896,"h":51930,"l":51670,"c":51701,"v":5500},
{"t":"2024-02-20T00:00","o":51792,"h":51820,"l":51312,"c":51572,"v":2200},{"t":"2024-02-20T04:00","o":51533,"h":51830,"l":51500,"c":51792,"v":4000},{"t":"2024-02-20T08:00","o":51766,"h":52350,"l":51740,"c":52026,"v":7800},{"t":"2024-02-20T12:00","o":52285,"h":52960,"l":51600,"c":51637,"v":17800},{"t":"2024-02-20T16:00","o":51961,"h":52480,"l":50755,"c":52091,"v":10800},{"t":"2024-02-20T20:00","o":52260,"h":52519,"l":52000,"c":52026,"v":3200},
{"t":"2024-02-21T00:00","o":52156,"h":52285,"l":51930,"c":51961,"v":3500},{"t":"2024-02-21T04:00","o":51961,"h":51990,"l":51442,"c":51572,"v":4400},{"t":"2024-02-21T08:00","o":51572,"h":51600,"l":50793,"c":50923,"v":9800},{"t":"2024-02-21T12:00","o":50923,"h":51170,"l":50664,"c":51144,"v":12100},{"t":"2024-02-21T16:00","o":51144,"h":51170,"l":50664,"c":50988,"v":8100},{"t":"2024-02-21T20:00","o":50988,"h":51900,"l":50950,"c":51870,"v":7100},
{"t":"2024-02-22T00:00","o":51870,"h":51900,"l":51470,"c":51507,"v":4800},{"t":"2024-02-22T04:00","o":51442,"h":51900,"l":51400,"c":51870,"v":4600},{"t":"2024-02-22T08:00","o":51896,"h":52026,"l":51600,"c":51637,"v":5500},{"t":"2024-02-22T12:00","o":51702,"h":51730,"l":50923,"c":51442,"v":8800},{"t":"2024-02-22T16:00","o":51637,"h":51670,"l":51280,"c":51312,"v":5600},{"t":"2024-02-22T20:00","o":51507,"h":52026,"l":51090,"c":51118,"v":8100},
{"t":"2024-02-23T00:00","o":51312,"h":51340,"l":50950,"c":50988,"v":4800},{"t":"2024-02-23T04:00","o":51053,"h":51090,"l":50820,"c":50858,"v":4200},{"t":"2024-02-23T08:00","o":50858,"h":51170,"l":50820,"c":51144,"v":4600},{"t":"2024-02-23T12:00","o":51183,"h":51220,"l":50820,"c":50858,"v":8600},{"t":"2024-02-23T16:00","o":51118,"h":51150,"l":50800,"c":50832,"v":5600},{"t":"2024-02-23T20:00","o":51092,"h":51120,"l":50508,"c":50729,"v":2800},
{"t":"2024-02-24T00:00","o":50703,"h":50860,"l":50600,"c":50832,"v":2600},{"t":"2024-02-24T04:00","o":50793,"h":51090,"l":50760,"c":51053,"v":2500},{"t":"2024-02-24T08:00","o":51053,"h":51150,"l":51020,"c":51118,"v":2500},{"t":"2024-02-24T12:00","o":51144,"h":51180,"l":51020,"c":51053,"v":2200},{"t":"2024-02-24T16:00","o":51092,"h":51665,"l":51060,"c":51533,"v":4800},{"t":"2024-02-24T20:00","o":51507,"h":51600,"l":51480,"c":51572,"v":2500},
{"t":"2024-02-25T00:00","o":51533,"h":51870,"l":51500,"c":51701,"v":3700},{"t":"2024-02-25T04:00","o":51637,"h":51750,"l":51600,"c":51714,"v":2500},{"t":"2024-02-25T08:00","o":51740,"h":51770,"l":51600,"c":51637,"v":2200},{"t":"2024-02-25T12:00","o":51701,"h":51730,"l":51480,"c":51507,"v":3200},{"t":"2024-02-25T16:00","o":51507,"h":51660,"l":51274,"c":51637,"v":4000},{"t":"2024-02-25T20:00","o":51637,"h":51922,"l":51600,"c":51740,"v":4200},
{"t":"2024-02-26T00:00","o":51727,"h":51750,"l":51400,"c":51442,"v":3200},{"t":"2024-02-26T04:00","o":51442,"h":51480,"l":51300,"c":51350,"v":3200},{"t":"2024-02-26T08:00","o":51327,"h":51340,"l":50900,"c":51025,"v":5700},{"t":"2024-02-26T12:00","o":51025,"h":52870,"l":50990,"c":52835,"v":12200},{"t":"2024-02-26T16:00","o":52810,"h":54500,"l":52780,"c":54465,"v":20500},{"t":"2024-02-26T20:00","o":54465,"h":54887,"l":54240,"c":54300,"v":8600},
{"t":"2024-02-27T00:00","o":54430,"h":57060,"l":54400,"c":55670,"v":17800},{"t":"2024-02-27T04:00","o":55610,"h":56450,"l":55500,"c":56090,"v":9100},{"t":"2024-02-27T08:00","o":56030,"h":56820,"l":56000,"c":56520,"v":8500},{"t":"2024-02-27T12:00","o":56480,"h":57420,"l":56450,"c":57240,"v":16300},{"t":"2024-02-27T16:00","o":56810,"h":57600,"l":56220,"c":57325,"v":10400},{"t":"2024-02-27T20:00","o":57360,"h":57500,"l":56570,"c":57000,"v":7400},
{"t":"2024-02-28T00:00","o":57060,"h":57100,"l":56850,"c":56880,"v":3900},{"t":"2024-02-28T04:00","o":56900,"h":58390,"l":56870,"c":58210,"v":8000},{"t":"2024-02-28T08:00","o":58170,"h":59470,"l":58150,"c":58930,"v":19900},{"t":"2024-02-28T12:00","o":58930,"h":61340,"l":58900,"c":60985,"v":27200},{"t":"2024-02-28T16:00","o":60985,"h":64000,"l":58690,"c":60920,"v":46700},{"t":"2024-02-28T20:00","o":60920,"h":62670,"l":59780,"c":62430,"v":17000},
{"t":"2024-02-29T00:00","o":62430,"h":62500,"l":61050,"c":61525,"v":10500},{"t":"2024-02-29T04:00","o":61525,"h":63600,"l":61500,"c":62700,"v":15300},{"t":"2024-02-29T08:00","o":62670,"h":63330,"l":62130,"c":62910,"v":12400},{"t":"2024-02-29T12:00","o":62910,"h":63000,"l":62000,"c":62430,"v":13500},{"t":"2024-02-29T16:00","o":62790,"h":62850,"l":60300,"c":60380,"v":17700},{"t":"2024-02-29T20:00","o":61590,"h":62270,"l":60580,"c":61100,"v":11800},
{"t":"2024-03-01T00:00","o":61160,"h":61250,"l":60780,"c":61100,"v":6700},{"t":"2024-03-01T04:00","o":61100,"h":61450,"l":61060,"c":61400,"v":6000},{"t":"2024-03-01T08:00","o":61400,"h":62210,"l":61370,"c":61830,"v":8800},{"t":"2024-03-01T12:00","o":61830,"h":62670,"l":61100,"c":61285,"v":10400},{"t":"2024-03-01T16:00","o":61220,"h":62220,"l":61190,"c":62180,"v":8200},{"t":"2024-03-01T20:00","o":62180,"h":63120,"l":62150,"c":62390,"v":9800},
{"t":"2024-03-02T00:00","o":62390,"h":62430,"l":62150,"c":62190,"v":5700},{"t":"2024-03-02T04:00","o":62250,"h":62290,"l":61910,"c":61950,"v":5000},{"t":"2024-03-02T08:00","o":62070,"h":62100,"l":61700,"c":61740,"v":4700},{"t":"2024-03-02T12:00","o":61890,"h":61950,"l":61580,"c":61830,"v":4400},{"t":"2024-03-02T16:00","o":61710,"h":62110,"l":61680,"c":62070,"v":3600},{"t":"2024-03-02T20:00","o":62090,"h":62190,"l":61910,"c":61950,"v":3400},
{"t":"2024-03-03T00:00","o":62030,"h":62060,"l":61850,"c":61890,"v":3400},{"t":"2024-03-03T04:00","o":62070,"h":62100,"l":61320,"c":61650,"v":5100},{"t":"2024-03-03T08:00","o":61590,"h":61900,"l":61400,"c":61860,"v":4200},{"t":"2024-03-03T12:00","o":61830,"h":62610,"l":61800,"c":62150,"v":6900},{"t":"2024-03-03T16:00","o":62130,"h":62970,"l":62100,"c":62730,"v":5800},{"t":"2024-03-03T20:00","o":62710,"h":63240,"l":62310,"c":63120,"v":5100},
{"t":"2024-03-04T00:00","o":63090,"h":64280,"l":62310,"c":63460,"v":13000},{"t":"2024-03-04T04:00","o":63430,"h":64280,"l":63400,"c":64060,"v":6900},{"t":"2024-03-04T08:00","o":64060,"h":65530,"l":64030,"c":65210,"v":16600},{"t":"2024-03-04T12:00","o":65210,"h":66570,"l":64540,"c":66450,"v":17300},{"t":"2024-03-04T16:00","o":66420,"h":67460,"l":66050,"c":67440,"v":17800},{"t":"2024-03-04T20:00","o":67380,"h":68470,"l":66780,"c":68200,"v":16200},
{"t":"2024-03-05T00:00","o":68200,"h":68670,"l":67560,"c":68114,"v":11800},{"t":"2024-03-05T04:00","o":68114,"h":68385,"l":65089,"c":67385,"v":13397}
],
"gridH":[{"t":"2023-12-12T15:24","t2":"2024-03-17T16:30","p":36000},{"t":"2023-12-12T15:24","t2":"2024-03-17T16:30","p":38000},{"t":"2023-12-12T15:24","t2":"2024-03-17T16:30","p":40000},{"t":"2023-12-12T15:24","t2":"2024-03-17T16:30","p":42000},{"t":"2023-12-12T15:24","t2":"2024-03-17T16:30","p":44000},{"t":"2023-12-12T15:24","t2":"2024-03-17T16:30","p":46000},{"t":"2023-12-12T15:24","t2":"2024-03-17T16:30","p":48000},{"t":"2023-12-12T15:24","t2":"2024-03-17T16:30","p":50000},{"t":"2023-12-12T15:24","t2":"2024-03-17T16:30","p":52000},{"t":"2023-12-12T15:24","t2":"2024-03-17T16:30","p":54000},{"t":"2023-12-12T15:24","t2":"2024-03-17T16:30","p":56000},{"t":"2023-12-12T15:24","t2":"2024-03-17T16:30","p":58000},{"t":"2023-12-12T15:24","t2":"2024-03-17T16:30","p":60000},{"t":"2023-12-12T15:24","t2":"2024-03-17T16:30","p":62000},{"t":"2023-12-12T15:24","t2":"2024-03-17T16:30","p":64000},{"t":"2023-12-12T15:24","t2":"2024-03-17T16:30","p":66000},{"t":"2023-12-12T15:24","t2":"2024-03-17T16:30","p":68000},{"t":"2023-12-12T15:24","t2":"2024-03-17T16:30","p":70000},{"t":"2023-12-12T15:24","t2":"2024-03-17T16:30","p":72000}],
"gridV":[{"t":"2023-12-18T00:00","p":72437,"p2":35508},{"t":"2023-12-25T00:00","p":72437,"p2":35508},{"t":"2024-01-01T00:00","p":72437,"p2":35508},{"t":"2024-01-08T00:00","p":72437,"p2":35508},{"t":"2024-01-15T00:00","p":72437,"p2":35508},{"t":"2024-01-22T00:00","p":72437,"p2":35508},{"t":"2024-02-01T00:00","p":72437,"p2":35508},{"t":"2024-02-12T00:00","p":72437,"p2":35508},{"t":"2024-02-19T00:00","p":72437,"p2":35508},{"t":"2024-03-01T00:00","p":72437,"p2":35508},{"t":"2024-03-11T00:00","p":72437,"p2":35508}]},
"resolve":{"scale":{"y":"independent"}},
"encoding":{"x":{"field":"t","type":"temporal","title":null,"scale":{"padding":0,"domain":[{"year":2023,"month":12,"date":12,"hours":15,"minutes":24},{"year":2024,"month":3,"date":23,"hours":3}]},"axis":{"orient":"bottom","title":null,"grid":false,"domain":false,"ticks":false,"labelPadding":-27,"labelBaseline":"middle","labelFont":"Roboto","labelFontSize":24,"labelColor":"#131722","labelOverlap":false,"labelBound":false,"labelFlush":false,"values":[{"year":2023,"month":12,"date":18},{"year":2023,"month":12,"date":25},{"year":2024,"month":1,"date":1},{"year":2024,"month":1,"date":8},{"year":2024,"month":1,"date":15},{"year":2024,"month":1,"date":22},{"year":2024,"month":2,"date":1},{"year":2024,"month":2,"date":12},{"year":2024,"month":2,"date":19},{"year":2024,"month":3,"date":1},{"year":2024,"month":3,"date":11}],"labelExpr":"date(datum.value)==1 ? (month(datum.value)==0 ? '2024' : timeFormat(datum.value,'%b')) : timeFormat(datum.value,'%-d')","labelFontWeight":{"condition":{"test":"month(datum.value)==0&&date(datum.value)==1","value":"bold"},"value":"normal"}}}},
"layer":[
{"data":{"name":"gridH"},"mark":{"type":"rule","stroke":"#f0f1f4","strokeWidth":2},"encoding":{"x2":{"field":"t2"},"y":{"field":"p","type":"quantitative","title":null,"scale":{"domain":[33738,72437]},"axis":{"orient":"right","title":null,"grid":false,"domain":false,"ticks":false,"labelAlign":"left","labelBaseline":"middle","labelPadding":-126,"labelFont":"Roboto","labelFontSize":26,"labelColor":"#131722","labelOverlap":false,"labelBound":false,"labelFlush":false,"format":".2f","values":[36000,38000,40000,42000,44000,46000,48000,50000,52000,54000,56000,58000,60000,62000,64000,66000,68000,70000,72000]}}}},
{"encoding":{"y":{"field":"p","type":"quantitative","title":null,"scale":{"domain":[33738,72437]},"axis":null}},"layer":[
{"data":{"name":"gridV"},"mark":{"type":"rule","stroke":"#f0f1f4","strokeWidth":2},"encoding":{"y2":{"field":"p2"}}},
{"data":{"values":[{"t":"2024-01-22T14:48","p":55715,"p2":51802},{"t":"2024-01-23T23:36","p":55715,"p2":52413},{"t":"2024-01-23T23:36","p":51160,"p2":50487},{"t":"2024-01-25T08:24","p":55715,"p2":53086},{"t":"2024-01-25T08:24","p":51802,"p2":50487},{"t":"2024-01-26T16:24","p":55104,"p2":53728},{"t":"2024-01-26T16:24","p":52474,"p2":51100},{"t":"2024-01-22T14:48","p":50487,"p2":50480}]},"mark":{"type":"rule","stroke":"#eef2fb","strokeWidth":21,"strokeCap":"round"},"encoding":{"y2":{"field":"p2"}}},
{"data":{"values":[{"t":"2024-02-04T12:54","p":53942,"s":"律动"}]},"mark":{"type":"text","font":"Noto Sans CJK SC","fontWeight":"bold","fontSize":140,"align":"center","baseline":"middle","color":"#eef0f2"},"encoding":{"text":{"field":"s","type":"nominal"}}},
{"data":{"values":[{"t":"2024-02-04T12:54","p":50793,"s":"BLOCK BEATS"}]},"mark":{"type":"text","font":"Roboto","fontWeight":"bold","fontSize":56,"align":"center","baseline":"middle","color":"#f6f7f8"},"encoding":{"text":{"field":"s","type":"nominal"}}}
]},
{"data":{"name":"candles"},"mark":{"type":"bar","size":2.2,"orient":"vertical"},"encoding":{"y":{"field":"v","type":"quantitative","stack":null,"title":null,"scale":{"domain":[-9660,187600]},"axis":null},"color":{"condition":{"test":"datum.c>=datum.o","value":"#a3d1c9"},"value":"#e9aeab"}}},
{"encoding":{"y":{"field":"p","type":"quantitative","title":null,"scale":{"domain":[33738,72437]},"axis":null}},"layer":[
{"data":{"name":"candles"},"mark":{"type":"rule","strokeWidth":1.8},"encoding":{"y":{"field":"l","type":"quantitative","title":null,"scale":{"domain":[33738,72437]},"axis":null},"y2":{"field":"h"},"color":{"condition":{"test":"datum.c>=datum.o","value":"#46967f"},"value":"#dc4a51"}}},
{"data":{"name":"candles"},"mark":{"type":"bar","size":3.6,"orient":"vertical"},"encoding":{"y":{"field":"o","type":"quantitative","title":null,"scale":{"domain":[33738,72437]},"axis":null},"y2":{"field":"c"},"color":{"condition":{"test":"datum.c>=datum.o","value":"#46967f"},"value":"#dc4a51"}}},
{"data":{"values":[{"t":"2023-12-12T15:24","t2":"2024-03-17T16:30","p":67384.87}]},"mark":{"type":"rule","stroke":"#dc4a51","strokeWidth":2,"strokeDash":[2,4]},"encoding":{"x2":{"field":"t2"}}},
{"data":{"values":[{"t":"2024-02-05T10:00","t2":"2024-02-15T01:00","p":54033,"p2":42232},{"t":"2024-02-26T02:00","t2":"2024-02-29T12:45","p":63694,"p2":50700}]},"mark":{"type":"rect","filled":false,"color":"#e8432a","strokeWidth":6,"cornerRadius":10},"encoding":{"x2":{"field":"t2"},"y2":{"field":"p2"}}},
{"data":{"values":[{"t":"2024-03-17T16:30","t2":"2024-03-23T00:12","p":67948,"p2":66033}]},"mark":{"type":"rect","color":"#e0525a","cornerRadius":3},"encoding":{"x2":{"field":"t2"},"y2":{"field":"p2"}}},
{"data":{"values":[{"t":"2024-03-17T16:30","t2":"2024-03-22T12:24","p":38779,"p2":37739}]},"mark":{"type":"rect","color":"#e0655f","cornerRadius":3},"encoding":{"x2":{"field":"t2"},"y2":{"field":"p2"}}},
{"data":{"values":[{"t":"2024-03-18T08:00","p":67424,"s":"67384.87"}]},"mark":{"type":"text","font":"Roboto","fontSize":26,"align":"left","baseline":"middle","color":"#ffffff"},"encoding":{"text":{"field":"s","type":"nominal"}}},
{"data":{"values":[{"t":"2024-03-18T08:00","p":66568,"s":"01:12:16"}]},"mark":{"type":"text","font":"Roboto","fontSize":26,"align":"left","baseline":"middle","color":"#f9d2d3"},"encoding":{"text":{"field":"s","type":"nominal"}}},
{"data":{"values":[{"t":"2024-03-18T08:00","p":38259,"s":"13.397K"}]},"mark":{"type":"text","font":"Roboto","fontSize":24,"align":"left","baseline":"middle","color":"#ffffff"},"encoding":{"text":{"field":"s","type":"nominal"}}},
{"data":{"values":[{"t":"2023-12-14T05:42","p":71612}]},"mark":{"type":"point","shape":"circle","filled":true,"opacity":1,"size":380,"color":"#2a9d8f"},"encoding":{}},
{"data":{"values":[{"t":"2023-12-13T18:48","p":71184}]},"mark":{"type":"point","shape":"circle","filled":true,"opacity":1,"size":430,"color":"#f0a13a"},"encoding":{}},
{"data":{"values":[{"t":"2023-12-13T18:48","p":71184,"s":"B"}]},"mark":{"type":"text","font":"Roboto","fontWeight":"bold","fontSize":16,"align":"center","baseline":"middle","color":"#ffffff"},"encoding":{"text":{"field":"s","type":"nominal"}}},
{"data":{"values":[{"t":"2024-01-04T04:18","p":71398}]},"mark":{"type":"point","shape":"circle","filled":true,"opacity":1,"size":1018,"color":"#e6f2ee"},"encoding":{}},
{"data":{"values":[{"t":"2024-01-04T04:18","p":71398}]},"mark":{"type":"point","shape":"circle","filled":true,"opacity":1,"size":200,"color":"#4a9a84"},"encoding":{}},
{"data":{"values":[{"t":"2023-12-15T00:00","p":71398,"s":"Bitcoin / TetherUS · 4h · BINANCE"}]},"mark":{"type":"text","font":"Roboto","fontSize":32,"align":"left","baseline":"middle","color":"#131722"},"encoding":{"text":{"field":"s","type":"nominal"}}},
{"data":{"values":[{"t":"2024-01-06T02:54","p":71367,"s":"O"},{"t":"2024-01-12T01:12","p":71367,"s":"H"},{"t":"2024-01-17T21:36","p":71367,"s":"L"},{"t":"2024-01-23T12:36","p":71367,"s":"C"},{"t":"2023-12-13T08:42","p":67943,"s":"Vol · BTC"},{"t":"2023-12-19T18:00","p":69686,"s":"0.01"}]},"mark":{"type":"text","font":"Roboto","fontSize":26,"align":"left","baseline":"middle","color":"#131722"},"encoding":{"text":{"field":"s","type":"nominal"}}},
{"data":{"values":[{"t":"2024-01-06T22:00","p":71367,"s":"68113.95"},{"t":"2024-01-12T19:24","p":71367,"s":"68384.54"},{"t":"2024-01-18T12:12","p":71367,"s":"65089.00"},{"t":"2024-01-24T07:48","p":71367,"s":"67384.87"},{"t":"2024-01-29T10:00","p":71367,"s":"−729.07 (−1.07%)"},{"t":"2023-12-13T20:36","p":69686,"s":"67384.87"}]},"mark":{"type":"text","font":"Roboto","fontSize":28.5,"align":"left","baseline":"middle","color":"#d9535a"},"encoding":{"text":{"field":"s","type":"nominal"}}},
{"data":{"values":[{"t":"2023-12-18T05:30","p":67943,"s":"13.397K"}]},"mark":{"type":"text","font":"Roboto","fontSize":26,"align":"left","baseline":"middle","color":"#df6b68"},"encoding":{"text":{"field":"s","type":"nominal"}}},
{"data":{"values":[{"t":"2023-12-22T18:00","p":69686,"s":"67384.88"}]},"mark":{"type":"text","font":"Roboto","fontSize":28.5,"align":"left","baseline":"middle","color":"#3d63dd"},"encoding":{"text":{"field":"s","type":"nominal"}}},
{"data":{"values":[{"t":"2023-12-13T06:54","t2":"2023-12-19T00:42","p":70389,"p2":68983}]},"mark":{"type":"rect","filled":false,"color":"#d9535a","strokeWidth":2.5,"cornerRadius":6},"encoding":{"x2":{"field":"t2"},"y2":{"field":"p2"}}},
{"data":{"values":[{"t":"2023-12-22T03:24","t2":"2023-12-27T22:06","p":70389,"p2":68983}]},"mark":{"type":"rect","filled":false,"color":"#3d63dd","strokeWidth":2.5,"cornerRadius":6},"encoding":{"x2":{"field":"t2"},"y2":{"field":"p2"}}},
{"data":{"values":[{"t":"2023-12-13T08:42","t2":"2023-12-15T11:48","p":67087,"p2":65864}]},"mark":{"type":"rect","filled":false,"color":"#d6d7da","strokeWidth":2.5,"cornerRadius":5},"encoding":{"x2":{"field":"t2"},"y2":{"field":"p2"}}},
{"data":{"values":[{"t":"2023-12-14T10:18","p":66477}]},"mark":{"type":"point","shape":"M-1,0.5L0,-0.5L1,0.5","filled":false,"opacity":1,"size":300,"stroke":"#131722","strokeWidth":3},"encoding":{}},
{"data":{"values":[{"t":"2023-12-14T16:42","p":36915}]},"mark":{"type":"point","shape":"M-1,-0.5L-0.2,-0.5L-0.2,0.5L-0.6,0.5L-0.6,-0.05L-1,-0.05Z M0.42,-0.5L0.98,-0.5L0.5,0.5L-0.1,0.5Z M-0.05,-0.3A0.2,0.2 0 1,0 0.35,-0.3A0.2,0.2 0 1,0 -0.05,-0.3Z","filled":true,"opacity":1,"size":3600,"color":"#131722","stroke":"#ffffff","strokeWidth":5},"encoding":{}},
{"data":{"values":[{"t":"2023-12-14T16:42","p":36915}]},"mark":{"type":"point","shape":"M-1,-0.5L-0.2,-0.5L-0.2,0.5L-0.6,0.5L-0.6,-0.05L-1,-0.05Z M0.42,-0.5L0.98,-0.5L0.5,0.5L-0.1,0.5Z M-0.05,-0.3A0.2,0.2 0 1,0 0.35,-0.3A0.2,0.2 0 1,0 -0.05,-0.3Z","filled":true,"opacity":1,"size":3600,"color":"#131722"},"encoding":{}},
{"data":{"values":[{"t":"2023-12-16T08:48","p":36823,"s":"TradingView"}]},"mark":{"type":"text","font":"Roboto","fontWeight":"bold","fontSize":43,"align":"left","baseline":"middle","stroke":"#ffffff","strokeWidth":8,"color":"#ffffff"},"encoding":{"text":{"field":"s","type":"nominal"}}},
{"data":{"values":[{"t":"2023-12-16T08:48","p":36823,"s":"TradingView"}]},"mark":{"type":"text","font":"Roboto","fontWeight":"bold","fontSize":43,"align":"left","baseline":"middle","color":"#131722"},"encoding":{"text":{"field":"s","type":"nominal"}}},
{"data":{"values":[{"t":"2024-03-08T14:30","p":36303},{"t":"2024-03-07T13:54","p":36303},{"t":"2024-03-06T12:18","p":36303}]},"mark":{"type":"point","shape":"circle","filled":true,"opacity":1,"size":1300,"fill":"#ffffff","stroke":"#dc4a51","strokeWidth":3.5},"encoding":{}},
{"data":{"values":[{"t":"2024-03-08T14:30","p":36303},{"t":"2024-03-07T13:54","p":36303},{"t":"2024-03-06T12:18","p":36303}]},"mark":{"type":"point","shape":"M0,-0.1L0.72,-0.1L0.75,0.15L-0.72,0.15L-0.75,-0.1Z M-0.6,0.42L0.6,0.42A0.75,0.75 0 0,1 -0.6,0.42Z","filled":true,"opacity":1,"size":1650,"color":"#e0605c"},"encoding":{}},
{"data":{"values":[{"t":"2024-03-08T14:30","p":36303},{"t":"2024-03-07T13:54","p":36303},{"t":"2024-03-06T12:18","p":36303}]},"mark":{"type":"point","shape":"M-0.75,-0.1A0.75,0.75 0 0,1 0,-0.75L0,-0.1Z","filled":true,"opacity":1,"size":1650,"color":"#3f86e6"},"encoding":{}},
{"data":{"values":[{"t":"2024-03-05T06:18","p":36303}]},"mark":{"type":"point","shape":"circle","filled":true,"opacity":1,"size":1300,"fill":"#ffffff","stroke":"#7b2fa8","strokeWidth":3.5},"encoding":{}},
{"data":{"values":[{"t":"2024-03-05T11:42","p":36303}]},"mark":{"type":"point","shape":"circle","filled":true,"opacity":1,"size":1300,"fill":"#ffffff","stroke":"#dc4a51","strokeWidth":3.5},"encoding":{}},
{"data":{"values":[{"t":"2024-03-05T11:42","p":36303}]},"mark":{"type":"point","shape":"M0,-0.1L0.72,-0.1L0.75,0.15L-0.72,0.15L-0.75,-0.1Z M-0.6,0.42L0.6,0.42A0.75,0.75 0 0,1 -0.6,0.42Z","filled":true,"opacity":1,"size":1650,"color":"#e0605c"},"encoding":{}},
{"data":{"values":[{"t":"2024-03-05T11:42","p":36303}]},"mark":{"type":"point","shape":"M-0.75,-0.1A0.75,0.75 0 0,1 0,-0.75L0,-0.1Z","filled":true,"opacity":1,"size":1650,"color":"#3f86e6"},"encoding":{}},
{"data":{"values":[{"t":"2024-03-20T13:00","p":34622}]},"mark":{"type":"point","shape":"M-1,0L-0.5,-0.87L0.5,-0.87L1,0L0.5,0.87L-0.5,0.87Z","filled":false,"opacity":1,"size":784,"stroke":"#131722","strokeWidth":2},"encoding":{}},
{"data":{"values":[{"t":"2024-03-20T13:00","p":34622}]},"mark":{"type":"point","shape":"circle","filled":false,"opacity":1,"size":64,"stroke":"#131722","strokeWidth":2},"encoding":{}},
{"data":{"values":[{"t":"2023-12-12T15:24","t2":"2024-03-23T03:00","p":33918,"p2":33738},{"t":"2023-12-12T15:24","t2":"2024-03-23T03:00","p":72437,"p2":72376}]},"mark":{"type":"rect","color":"#e4e7ee"},"encoding":{"x2":{"field":"t2"},"y2":{"field":"p2"}}}
]}
]}
